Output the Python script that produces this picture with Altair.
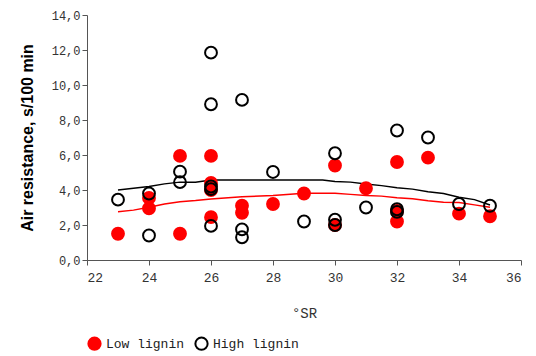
import altair as alt
import pandas as pd

# Scatter data
low_x = [23, 24, 24, 25, 25, 26, 26, 26, 26, 27, 27, 28, 29, 30, 30, 31, 32, 32, 32, 33, 34, 35]
low_y = [1.5, 3.55, 2.95, 5.95, 1.5, 5.95, 4.4, 4.0, 2.45, 3.1, 2.7, 3.2, 3.8, 5.4, 2.0, 4.1, 5.6, 2.8, 2.2, 5.85, 2.65, 2.5]
high_x = [23, 24, 24, 25, 25, 26, 26, 26, 26, 26, 27, 27, 27, 28, 29, 30, 30, 30, 31, 32, 32, 32, 33, 34, 35]
high_y = [3.45, 3.8, 1.4, 5.05, 4.45, 11.85, 8.9, 4.2, 4.05, 1.95, 9.15, 1.75, 1.3, 5.03, 2.2, 6.1, 2.3, 2.0, 3.0, 7.4, 2.9, 2.75, 7.0, 3.2, 3.1]

# Trend lines
trend_x = [23, 23.5, 24, 24.5, 25, 25.5, 26, 27, 28, 29, 29.6, 30, 30.5, 31, 31.5, 32, 32.5, 33, 33.5, 34, 34.5, 35]
trend_high = [4.0, 4.1, 4.2, 4.35, 4.45, 4.45, 4.57, 4.57, 4.57, 4.57, 4.57, 4.48, 4.45, 4.34, 4.25, 4.13, 4.05, 3.9, 3.8, 3.58, 3.45, 3.14]
trend_low = [2.76, 2.85, 3.01, 3.2, 3.33, 3.4, 3.49, 3.62, 3.68, 3.81, 3.81, 3.81, 3.75, 3.68, 3.65, 3.56, 3.5, 3.39, 3.3, 3.28, 3.15, 3.01]

series = ["Low lignin", "High lignin"]

pts = pd.DataFrame({
    "x": low_x + high_x,
    "y": low_y + high_y,
    "series": [series[0]] * len(low_x) + [series[1]] * len(high_x),
})
lines = pd.DataFrame({"x": trend_x, "hi": trend_high, "lo": trend_low})

mono = "Liberation Mono"

xscale = alt.Scale(domain=[22, 36], nice=False, zero=False)
yscale = alt.Scale(domain=[0, 14], nice=False)

xaxis = alt.Axis(values=list(range(22, 37, 2)), title="°SR", grid=False,
                 labelFont=mono, labelFontSize=13, labelColor="#333333",
                 titleFont=mono, titleFontSize=14, titleFontWeight="normal", titleColor="#333333",
                 titlePadding=22, labelPadding=6, tickSize=5, domainColor="#555555", tickColor="#555555")
yaxis = alt.Axis(values=list(range(0, 15, 2)), title="Air resistance, s/100 min", grid=False,
                 labelExpr="replace(format(datum.value, '.1f'), '.', ',')",
                 labelFont=mono, labelFontSize=12, labelColor="#333333",
                 titleFont="Liberation Sans", titleFontSize=16, titleFontWeight="bold", titleColor="#000000",
                 titlePadding=16, tickSize=5, domainColor="#555555", tickColor="#555555")

base_x = alt.X("x:Q", scale=xscale, axis=xaxis)

line_hi = alt.Chart(lines).mark_line(color="#000000", strokeWidth=1.5).encode(
    x=base_x, y=alt.Y("hi:Q", scale=yscale, axis=yaxis))
line_lo = alt.Chart(lines).mark_line(color="#ff0000", strokeWidth=1.5).encode(
    x=base_x, y=alt.Y("lo:Q", scale=yscale, axis=yaxis))

leg = alt.Legend(title=None, orient="none", legendX=0, legendY=321, direction="horizontal",
                 labelFont=mono, labelFontSize=13, labelColor="#222222",
                 symbolSize=150, symbolStrokeWidth=2, columnPadding=6, padding=0)

points = alt.Chart(pts).mark_point(size=140, strokeWidth=2, opacity=1, shape="circle").encode(
    x=base_x,
    y=alt.Y("y:Q", scale=yscale, axis=yaxis),
    fill=alt.Fill("series:N", scale=alt.Scale(domain=series, range=["#ff0000", "transparent"]), legend=leg),
    stroke=alt.Stroke("series:N", scale=alt.Scale(domain=series, range=["#ff0000", "#000000"]), legend=leg),
    order=alt.Order("ord:Q"),
).transform_calculate(ord="datum.series == 'Low lignin' ? 0 : 1")

chart = alt.layer(line_hi, line_lo, points).properties(
    width=434, height=245,
    autosize=alt.AutoSizeParams(type="none"),
    padding={"left": 87, "top": 15, "right": 15, "bottom": 96},
).configure_view(stroke=None)

chart.save("out.html", embed_options={"renderer": "svg", "actions": False})
